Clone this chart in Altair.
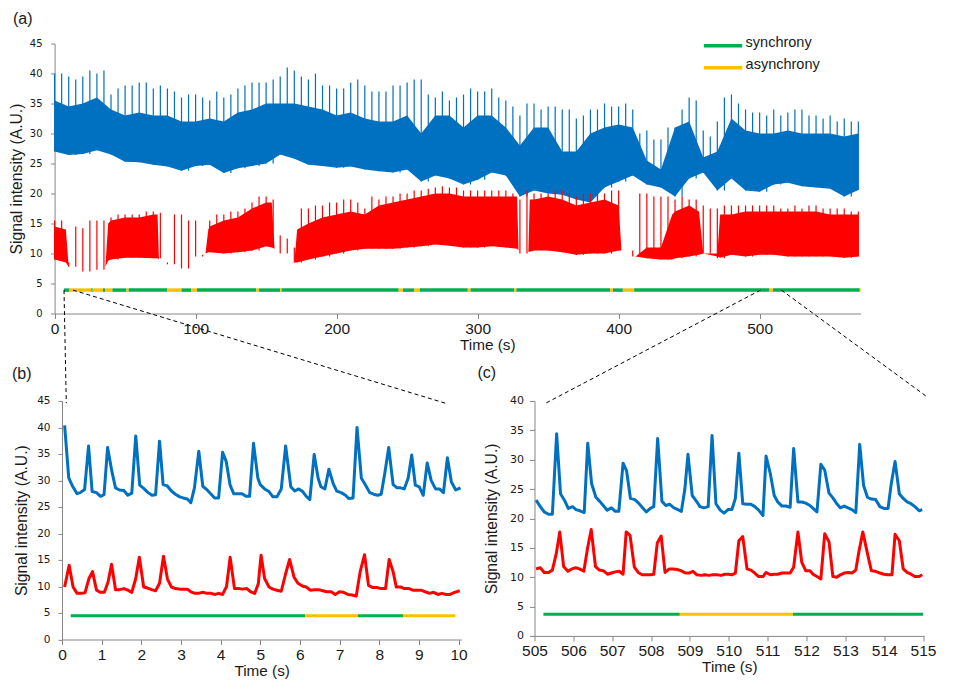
import altair as alt
import pandas as pd

# ---------------- panel (a): overview ----------------
# blue trace, read every 10 s: lower edge, top of the dense band
overview_time = list(range(0, 571, 10))
blue_low = [27.0, 26.4, 26.6, 27.2, 26.5, 25.3, 25.2, 24.8, 24.5, 23.8, 24.6, 24.8, 23.4, 24.2, 24.6,
            25.0, 26.5, 25.8, 24.8, 24.6, 24.3, 24.5, 24.0, 23.7, 23.5, 24.0, 22.0, 23.0, 22.5, 21.5,
            22.3, 23.5, 23.0, 19.5, 20.5, 20.0, 19.8, 19.0, 18.5, 21.0, 22.0, 23.0, 21.5, 21.0, 19.5,
            22.5, 23.5, 20.5, 22.5, 20.5, 20.3, 21.5, 21.8, 21.2, 21.0, 20.8, 19.5, 20.6]
blue_high = [35.5, 34.5, 35.0, 36.0, 34.0, 33.0, 33.5, 33.0, 33.0, 32.0, 32.0, 32.5, 32.0, 33.5, 34.0,
             35.0, 35.0, 35.0, 34.5, 34.0, 33.0, 33.5, 32.5, 32.0, 32.0, 33.0, 30.0, 33.0, 33.0, 31.0,
             33.0, 33.0, 31.0, 28.0, 31.0, 31.0, 27.0, 27.0, 30.0, 31.0, 31.5, 31.0, 25.5, 24.0, 31.0,
             32.0, 26.0, 27.0, 32.5, 30.5, 30.0, 30.0, 30.5, 30.0, 30.0, 30.0, 29.5, 30.0]
# spike tops at the same 10 s grid
blue_peak_grid = [40.0, 39.5, 39.5, 40.0, 36.5, 38.0, 38.5, 37.5, 37.5, 36.0, 36.5, 35.5, 36.0, 37.5,
                  38.5, 38.5, 39.5, 40.5, 39.0, 38.0, 37.5, 38.5, 38.0, 37.0, 38.0, 38.5, 39.0, 36.0,
                  35.5, 36.5, 37.0, 37.5, 35.5, 33.0, 35.0, 34.5, 34.0, 32.5, 34.0, 35.0, 34.5, 34.0,
                  30.5, 29.0, 31.0, 36.0, 30.5, 32.0, 36.5, 34.0, 33.5, 34.0, 33.5, 34.0, 33.0, 33.0,
                  32.5, 32.0]
# spike tops half-way between grid points (5, 15, ... 565 s)
spike_time = list(range(5, 566, 10))
blue_peak = [40.0, 39.0, 40.5, 40.5, 37.5, 38.0, 38.5, 38.0, 37.0, 36.5, 36.0, 37.0, 36.5, 38.0, 38.5,
             39.0, 41.0, 39.5, 40.0, 38.0, 37.5, 39.0, 37.0, 37.0, 38.0, 39.0, 36.5, 37.0, 36.0, 37.5,
             37.0, 36.0, 34.5, 35.0, 34.0, 34.5, 34.0, 33.0, 34.0, 34.5, 35.0, 30.0, 29.0, 31.0, 34.0,
             35.5, 29.5, 36.0, 35.0, 33.5, 33.0, 33.0, 34.0, 33.0, 32.5, 32.0, 32.0]

# red trace: baseline on the 10 s grid, spike tops on the grid and half-way
red_low = [9.0, 7.8, 7.0, 7.3, 9.0, 9.3, 9.3, 9.2, 8.2, 7.5, 9.5, 10.2, 10.0, 10.2, 10.5,
           11.2, 10.0, 8.5, 9.0, 9.5, 10.0, 10.5, 10.8, 10.8, 10.8, 11.0, 11.2, 11.5, 11.3, 11.0,
           11.0, 11.2, 11.0, 10.0, 10.5, 10.5, 10.2, 9.8, 10.0, 10.0, 10.5, 9.5, 9.2, 9.0, 9.2,
           9.5, 10.0, 9.2, 9.8, 9.5, 9.8, 9.8, 9.5, 9.5, 9.5, 9.5, 9.3, 9.5]
red_peak_grid = [15.5, 8.5, 14.2, 15.5, 16.0, 16.5, 16.5, 17.0, 8.5, 16.5, 15.5, 15.5, 16.5, 17.0,
                 18.5, 19.5, 13.0, 11.0, 17.5, 18.0, 18.5, 19.0, 17.5, 19.0, 19.5, 20.0, 20.5, 21.0,
                 21.0, 20.5, 20.5, 20.5, 20.5, 19.0, 20.0, 20.0, 20.5, 19.5, 20.0, 20.0, 20.5, 10.5,
                 20.0, 19.5, 19.0, 19.0, 18.0, 17.5, 18.0, 18.0, 18.0, 18.0, 17.5, 17.5, 18.0, 17.5,
                 17.5, 17.0]
red_peak = [15.5, 14.5, 15.5, 15.5, 16.5, 16.5, 17.0, 16.8, 16.5, 15.5, 9.8, 16.5, 17.0, 17.5, 19.5,
            19.0, 12.5, 17.5, 18.0, 18.5, 19.0, 18.5, 19.5, 19.5, 20.0, 20.5, 20.8, 21.2, 21.0, 20.5,
            20.5, 20.5, 20.0, 20.5, 20.0, 20.5, 20.0, 20.0, 20.0, 20.5, 10.5, 20.0, 19.5, 19.5, 19.5,
            19.0, 17.5, 18.0, 18.0, 18.0, 18.0, 17.5, 18.0, 18.0, 17.5, 17.5, 17.0]
# red dense band, with extra points where bursting starts or stops
red_band_time = [0, 8, 10, 20, 30, 36, 38, 40, 50, 60, 70, 73, 74, 80, 90, 100, 107, 109, 110, 120,
                 130, 140, 150, 154, 156, 160, 170, 172, 180, 190, 200, 210, 220, 230, 240, 250, 260,
                 270, 280, 290, 300, 310, 320, 328, 329, 336, 337, 340, 350, 360, 370, 380, 390, 400,
                 402, 410, 412, 420, 430, 438, 440, 450, 457, 460, 470, 472, 480, 490, 500, 510, 520,
                 530, 540, 550, 560, 570]
red_band_low = [9.0, 8.5, 7.8, 7.0, 7.3, 7.8, 8.8, 9.0, 9.3, 9.3, 9.2, 9.2, 9.0, 8.2, 7.5, 9.5, 10.0,
                10.2, 10.2, 10.0, 10.2, 10.5, 11.2, 11.0, 10.8, 10.0, 8.5, 8.5, 9.0, 9.5, 10.0, 10.5,
                10.8, 10.8, 10.8, 11.0, 11.2, 11.5, 11.3, 11.0, 11.0, 11.2, 11.0, 10.8, 10.5, 10.3,
                10.3, 10.5, 10.5, 10.2, 9.8, 10.0, 10.0, 10.5, 10.5, 9.8, 9.5, 9.2, 9.0, 9.0, 9.2, 9.5,
                9.8, 10.0, 9.5, 9.3, 9.8, 9.5, 9.8, 9.8, 9.5, 9.5, 9.5, 9.5, 9.3, 9.5]
red_band_high = [14.5, 14.0, 7.8, 7.0, 7.3, 7.8, 15.0, 15.5, 16.0, 16.0, 16.5, 16.5, 9.0, 8.2, 7.5,
                 9.5, 10.0, 14.0, 14.5, 15.5, 16.0, 17.5, 18.5, 18.5, 10.8, 10.0, 8.5, 14.0, 15.0,
                 16.0, 16.5, 17.0, 16.5, 18.0, 18.5, 19.0, 19.5, 20.0, 20.0, 19.5, 19.5, 19.5, 19.5,
                 19.5, 10.5, 10.3, 19.0, 19.0, 19.5, 19.0, 18.0, 18.5, 19.0, 18.0, 10.5, 9.8, 9.5,
                 11.0, 11.0, 16.5, 17.0, 18.0, 17.0, 10.0, 10.0, 16.5, 16.5, 17.0, 17.0, 17.0, 17.0,
                 17.0, 17.0, 16.5, 16.5, 16.5]

# synchrony bar of panel (a)
a_seg_start = [6.6, 10.6, 26.0, 27.0, 34.3, 36.0, 41.0, 51.0, 52.5, 80.0, 90.0, 97.0, 101.0, 143.0, 145.0,
               160.0, 161.0, 244.0, 247.0, 255.0, 259.0, 293.0, 295.0, 326.0, 327.5, 394.0, 396.0,
               403.0, 411.0, 507.0, 509.5, 571.0]
a_seg_end = [10.6, 26.0, 27.0, 34.3, 36.0, 41.0, 51.0, 52.5, 80.0, 90.0, 97.0, 101.0, 143.0, 145.0, 160.0,
             161.0, 244.0, 247.0, 255.0, 259.0, 293.0, 295.0, 326.0, 327.5, 394.0, 396.0, 403.0,
             411.0, 507.0, 509.5, 571.0, 571.6]
a_seg_state = ["synchrony", "asynchrony"] * 16
a_bar_level = 3.9

# dashed zoom guides, in panel (a) units
zoom_t = [6.67, 13.0, 500.6, 515.4]
zoom_v = [3.9, 3.9, 3.9, 3.9]
zoom_t2 = [8.3, 277.8, 348.7, 618.2]
zoom_v2 = [-14.95, -15.0, -14.9, -13.8]

# ---------------- panel (b): 0-10 s ----------------
b_blue_t = [0.066, 0.17, 0.26, 0.38, 0.46, 0.57, 0.67, 0.76, 0.87, 0.97, 1.06, 1.15, 1.26, 1.35, 1.45,
            1.56, 1.66, 1.76, 1.86, 1.96, 2.06, 2.17, 2.27, 2.36, 2.46, 2.55, 2.65, 2.76, 2.86, 2.97,
            3.06, 3.16, 3.25, 3.34, 3.45, 3.55, 3.66, 3.75, 3.85, 3.95, 4.05, 4.14, 4.24, 4.33, 4.44,
            4.54, 4.64, 4.73, 4.83, 4.94, 5.00, 5.11, 5.22, 5.32, 5.42, 5.53, 5.64, 5.77, 5.87, 5.97,
            6.07, 6.16, 6.25, 6.36, 6.46, 6.53, 6.63, 6.73, 6.84, 6.93, 7.04, 7.15, 7.23, 7.34, 7.44,
            7.55, 7.65, 7.76, 7.86, 7.96, 8.05, 8.14, 8.24, 8.35, 8.45, 8.54, 8.63, 8.73, 8.82, 8.91,
            9.01, 9.11, 9.21, 9.31, 9.42, 9.52, 9.62, 9.72, 9.82, 9.93, 10.05]
b_blue_v = [40.4, 30.5, 29.0, 27.5, 27.7, 28.3, 36.5, 27.9, 27.7, 27.0, 27.3, 36.2, 31.6, 28.6, 28.2,
            28.1, 27.2, 27.6, 38.4, 29.1, 28.5, 27.7, 27.2, 27.3, 37.4, 29.2, 29.0, 28.0, 27.4, 26.9,
            26.7, 26.5, 25.8, 28.6, 35.5, 28.9, 28.2, 27.5, 26.7, 26.7, 35.3, 33.6, 29.1, 27.5, 27.5,
            27.5, 27.0, 27.0, 37.0, 30.4, 29.2, 28.4, 27.9, 26.9, 26.9, 28.4, 36.5, 28.8, 28.0, 28.4,
            27.9, 27.0, 26.4, 34.9, 30.4, 28.8, 28.4, 32.1, 29.4, 28.0, 27.7, 27.2, 26.6, 26.7, 40.0,
            30.4, 29.2, 27.7, 27.4, 27.2, 27.4, 31.3, 36.2, 29.2, 28.6, 28.6, 28.4, 30.4, 34.8, 29.1,
            28.8, 27.2, 33.3, 30.0, 28.4, 28.4, 27.7, 34.3, 29.7, 28.2, 28.6]
b_red_t = [0.066, 0.18, 0.28, 0.38, 0.48, 0.58, 0.68, 0.77, 0.87, 0.97, 1.07, 1.16, 1.25, 1.35, 1.45,
           1.56, 1.66, 1.76, 1.86, 1.95, 2.06, 2.16, 2.26, 2.36, 2.46, 2.56, 2.66, 2.76, 2.86, 2.97,
           3.06, 3.16, 3.25, 3.35, 3.45, 3.55, 3.66, 3.76, 3.86, 3.95, 4.05, 4.15, 4.24, 4.35, 4.45,
           4.55, 4.66, 4.76, 4.86, 4.95, 5.02, 5.11, 5.22, 5.32, 5.42, 5.53, 5.64, 5.74, 5.85, 5.95,
           6.06, 6.16, 6.26, 6.37, 6.47, 6.58, 6.68, 6.79, 6.89, 7.00, 7.10, 7.21, 7.31, 7.42, 7.52,
           7.63, 7.73, 7.84, 7.94, 8.05, 8.16, 8.25, 8.35, 8.43, 8.54, 8.64, 8.75, 8.85, 8.96, 9.06,
           9.16, 9.27, 9.37, 9.48, 9.58, 9.69, 9.79, 9.90, 10.03]
b_red_v = [9.9, 14.0, 9.9, 8.7, 8.7, 8.8, 11.5, 12.8, 9.3, 8.9, 8.9, 10.8, 14.2, 9.4, 9.4,
           9.6, 9.3, 8.9, 11.5, 15.5, 9.9, 9.7, 9.4, 9.2, 10.6, 15.7, 11.4, 9.9, 9.6, 9.5,
           9.5, 9.5, 9.0, 8.7, 8.7, 8.9, 8.7, 8.7, 8.5, 8.7, 8.5, 10.0, 15.5, 9.6, 9.6,
           9.5, 9.6, 9.0, 8.7, 10.5, 15.9, 11.5, 9.9, 9.5, 9.3, 9.1, 12.4, 15.1, 11.8, 10.6,
           10.1, 9.9, 9.3, 9.4, 9.4, 9.2, 9.0, 9.0, 8.5, 9.0, 8.9, 8.5, 8.4, 8.2, 12.8,
           16.0, 10.2, 9.8, 9.8, 9.6, 9.6, 15.1, 12.8, 9.9, 9.9, 9.6, 9.6, 9.3, 9.3, 9.3,
           9.0, 8.7, 8.9, 8.5, 8.7, 8.5, 8.5, 8.9, 9.2]
b_seg_start = [0.22, 6.13, 7.46, 8.6]
b_seg_end = [6.13, 7.46, 8.6, 9.92]
b_seg_state = ["synchrony", "asynchrony", "synchrony", "asynchrony"]
b_bar_level = 4.5

# ---------------- panel (c): 505-515 s ----------------
c_blue_t = [505.04, 505.15, 505.25, 505.36, 505.46, 505.57, 505.67, 505.77, 505.87, 505.98, 506.07,
            506.17, 506.28, 506.37, 506.47, 506.58, 506.68, 506.77, 506.87, 506.98, 507.08, 507.17,
            507.28, 507.37, 507.47, 507.58, 507.68, 507.78, 507.88, 507.98, 508.07, 508.17, 508.28,
            508.38, 508.48, 508.59, 508.69, 508.78, 508.87, 508.95, 509.06, 509.16, 509.26, 509.36,
            509.47, 509.57, 509.67, 509.78, 509.88, 509.98, 510.08, 510.17, 510.26, 510.36, 510.47,
            510.57, 510.67, 510.77, 510.88, 510.96, 511.07, 511.17, 511.26, 511.37, 511.47, 511.58,
            511.67, 511.78, 511.88, 511.98, 512.09, 512.17, 512.27, 512.37, 512.47, 512.58, 512.68,
            512.78, 512.87, 512.97, 513.07, 513.17, 513.27, 513.37, 513.47, 513.57, 513.67, 513.78,
            513.89, 513.99, 514.10, 514.18, 514.28, 514.39, 514.49, 514.59, 514.69, 514.79, 514.90,
            514.98]
c_blue_v = [23.1, 22.0, 21.1, 20.7, 20.7, 34.4, 24.2, 23.1, 21.7, 22.0, 21.5,
            21.3, 21.0, 32.8, 25.9, 23.6, 22.9, 22.2, 21.4, 21.8, 21.2, 21.2,
            29.4, 28.1, 23.4, 23.2, 22.6, 21.8, 21.1, 21.7, 22.0, 33.6, 22.9,
            22.2, 22.4, 21.8, 21.5, 21.2, 25.0, 30.9, 23.9, 23.0, 22.0, 21.8,
            22.0, 34.1, 22.5, 21.4, 20.9, 21.5, 21.5, 23.4, 31.1, 22.5, 22.4,
            22.4, 22.0, 21.4, 20.5, 30.6, 27.6, 23.9, 22.8, 22.1, 22.1, 21.9,
            31.9, 22.8, 22.8, 22.6, 22.2, 21.7, 21.1, 29.2, 28.2, 24.3, 23.5,
            22.5, 21.8, 22.1, 21.8, 21.5, 21.0, 32.6, 25.6, 23.6, 23.3, 23.2,
            22.0, 21.7, 21.7, 25.8, 29.7, 24.2, 23.4, 22.8, 22.5, 22.0, 21.3,
            21.5]
c_red_t = [505.04, 505.15, 505.25, 505.36, 505.46, 505.56, 505.65, 505.75, 505.86, 505.96, 506.06,
           506.16, 506.27, 506.37, 506.46, 506.57, 506.67, 506.77, 506.88, 506.98, 507.08, 507.18,
           507.28, 507.36, 507.46, 507.57, 507.67, 507.77, 507.88, 507.98, 508.07, 508.16, 508.26,
           508.36, 508.47, 508.57, 508.67, 508.77, 508.88, 508.98, 509.08, 509.18, 509.29, 509.39,
           509.49, 509.59, 509.70, 509.80, 509.90, 509.99, 510.08, 510.17, 510.26, 510.36, 510.47,
           510.57, 510.67, 510.77, 510.88, 510.96, 511.07, 511.17, 511.26, 511.37, 511.47, 511.58,
           511.67, 511.78, 511.88, 511.98, 512.09, 512.17, 512.27, 512.37, 512.47, 512.58, 512.68,
           512.78, 512.87, 512.97, 513.07, 513.17, 513.27, 513.34, 513.45, 513.57, 513.67, 513.78,
           513.89, 513.99, 514.10, 514.20, 514.28, 514.39, 514.49, 514.59, 514.69, 514.79, 514.90,
           514.98]
c_red_v = [11.4, 11.6, 10.8, 10.8, 11.2, 14.0, 17.7, 11.8, 11.0, 11.4, 11.6,
           11.4, 11.0, 15.1, 18.1, 11.8, 11.2, 11.1, 10.5, 10.7, 10.9, 11.0,
           10.5, 17.7, 17.1, 11.7, 10.8, 10.4, 10.4, 10.4, 10.5, 15.8, 17.0,
           10.8, 11.4, 11.4, 11.3, 11.1, 10.7, 10.7, 11.0, 10.4, 10.3, 10.4,
           10.3, 10.4, 10.4, 10.3, 10.5, 10.5, 10.4, 10.7, 16.2, 16.9, 11.4,
           11.2, 10.7, 10.1, 10.1, 10.8, 10.4, 10.5, 10.5, 10.7, 10.7, 10.7,
           11.7, 17.7, 12.5, 11.1, 11.1, 10.5, 10.1, 9.7, 17.4, 16.0, 10.1,
           10.0, 10.4, 10.7, 10.8, 10.7, 11.2, 14.0, 17.7, 14.0, 11.1, 11.0,
           10.7, 10.5, 10.4, 10.4, 17.3, 16.2, 11.4, 10.8, 10.5, 10.1, 10.1,
           10.4]
c_seg_start = [505.23, 508.74, 511.65]
c_seg_end = [508.74, 511.65, 515.0]
c_seg_state = ["synchrony", "asynchrony", "synchrony"]
c_bar_level = 3.7

# ---------------- styling ----------------
BLUE, RED, GREEN, YELLOW = "#0070C0", "#FF0000", "#00B050", "#FFC000"
AX, TXT = "#868686", "#1a1a1a"
SANS, TICKFONT = "Liberation Sans", "DejaVu Sans"
state_scale = alt.Scale(domain=["synchrony", "asynchrony"], range=[GREEN, YELLOW])
A_SHIFT = 7.4  # panel (a) plot starts this many px left of panel (b)


def x_axis(values, title_x=None):
    kw = dict(values=values, title="Time (s)", grid=False, domainColor=AX, tickColor=AX,
              tickSize=5, labelPadding=3, labelFont=SANS, labelFontSize=15.5, labelColor=TXT,
              labelFlush=False, labelOverlap=False, titleFont=SANS, titleFontSize=15.3,
              titleFontWeight="normal", titleColor=TXT, titlePadding=0)
    if title_x is not None:
        kw["titleX"] = title_x
    return alt.Axis(**kw)


def y_axis(values, extent, label_pad, tick, title_pad, label_size, offset=0):
    return alt.Axis(values=values, title="Signal intensity (A.U.)", grid=False, domainColor=AX,
                    tickColor=AX, tickSize=tick, labelPadding=label_pad, labelFont=TICKFONT,
                    labelFontSize=label_size, labelColor=TXT, titleFont=SANS, titleFontSize=15.7,
                    titleFontWeight="normal", titleColor=TXT, titlePadding=title_pad,
                    minExtent=extent, maxExtent=extent, offset=offset)


def panel_title(text, dx, dy):
    return alt.Title(text, anchor="start", frame="group", dx=dx, dy=dy, fontSize=16, font=SANS,
                     fontWeight="normal", color=TXT)


# ---------------- panel (a) ----------------
xa = alt.X("t:Q", scale=alt.Scale(domain=[0, 571.6], range=[-A_SHIFT, 806 - A_SHIFT], nice=False,
                                  zero=False),
           axis=x_axis([0, 100, 200, 300, 400, 500], title_x=425.3))
ya = alt.Y("v:Q", scale=alt.Scale(domain=[0, 45], nice=False),
           axis=y_axis(list(range(0, 46, 5)), 25, 8.6, 4, 5, 10, offset=A_SHIFT))

blue_band = pd.DataFrame({"t": overview_time, "v": blue_low, "v2": blue_high})
red_band = pd.DataFrame({"t": red_band_time, "v": red_band_low, "v2": red_band_high})
blue_spikes = pd.concat([
    pd.DataFrame({"t": overview_time, "v": blue_low, "v2": blue_peak_grid}),
    pd.DataFrame({"t": spike_time, "v": blue_low[:len(spike_time)], "v2": blue_peak}),
])
red_spikes = pd.concat([
    pd.DataFrame({"t": overview_time, "v": red_low, "v2": red_peak_grid}),
    pd.DataFrame({"t": spike_time, "v": red_low[:len(spike_time)], "v2": red_peak}),
])
a_segs = pd.DataFrame({"t": a_seg_start, "t2": a_seg_end, "v": a_bar_level, "state": a_seg_state})
zooms = pd.DataFrame({"t": zoom_t, "v": zoom_v, "t2": zoom_t2, "v2": zoom_v2})

legend = alt.Legend(title=None, orient="none", legendX=669.1, legendY=-8.0,
                    symbolType="M-6.9,0.6L0.78,0.6", symbolSize=100, symbolStrokeWidth=3.5,
                    labelFont=SANS, labelFontSize=14.5, labelColor=TXT, labelOffset=0,
                    rowPadding=3.1, padding=0)

panel_a = alt.layer(
    alt.Chart(blue_band).mark_area(color=BLUE).encode(x=xa, y=ya, y2="v2:Q"),
    alt.Chart(blue_spikes).mark_rule(color=BLUE, strokeWidth=1.2).encode(x=xa, y=ya, y2="v2:Q"),
    alt.Chart(red_band).mark_area(color=RED).encode(x=xa, y=ya, y2="v2:Q"),
    alt.Chart(red_spikes).mark_rule(color=RED, strokeWidth=1.2).encode(x=xa, y=ya, y2="v2:Q"),
    alt.Chart(a_segs).mark_rule(strokeWidth=3.5).encode(
        x=xa, x2="t2:Q", y=ya, color=alt.Color("state:N", scale=state_scale, legend=legend)),
    alt.Chart(zooms).mark_rule(color="#000000", strokeDash=[4, 3], strokeWidth=1).encode(
        x=xa, y=ya, x2="t2:Q", y2="v2:Q"),
).properties(width=806 - A_SHIFT, height=270, title=panel_title("(a)", -49, -5))

# ---------------- panel (b) ----------------
xb = alt.X("t:Q", scale=alt.Scale(domain=[0, 10.07], nice=False, zero=False),
           axis=x_axis(list(range(0, 11))))
yb = alt.Y("v:Q", scale=alt.Scale(domain=[0, 45], nice=False),
           axis=y_axis(list(range(0, 46, 5)), 24.7, 8, 4, 8, 10.5))
b_segs = pd.DataFrame({"t": b_seg_start, "t2": b_seg_end, "v": b_bar_level, "state": b_seg_state})
panel_b = alt.layer(
    alt.Chart(pd.DataFrame({"t": b_blue_t, "v": b_blue_v})).mark_line(
        color=BLUE, strokeWidth=3, strokeJoin="round").encode(x=xb, y=yb),
    alt.Chart(pd.DataFrame({"t": b_red_t, "v": b_red_v})).mark_line(
        color=RED, strokeWidth=3, strokeJoin="round").encode(x=xb, y=yb),
    alt.Chart(b_segs).mark_rule(strokeWidth=3).encode(
        x=xb, x2="t2:Q", y=yb, color=alt.Color("state:N", scale=state_scale, legend=None)),
).properties(width=399.3, height=238.6, title=panel_title("(b)", -50, -10))

# ---------------- panel (c) ----------------
xc = alt.X("t:Q", scale=alt.Scale(domain=[505, 515.03], nice=False, zero=False),
           axis=x_axis(list(range(505, 516))))
yc = alt.Y("v:Q", scale=alt.Scale(domain=[0, 40], nice=False),
           axis=y_axis(list(range(0, 41, 5)), 25, 6, 5, 10, 11))
c_segs = pd.DataFrame({"t": c_seg_start, "t2": c_seg_end, "v": c_bar_level, "state": c_seg_state})
panel_c = alt.layer(
    alt.Chart(pd.DataFrame({"t": c_blue_t, "v": c_blue_v})).mark_line(
        color=BLUE, strokeWidth=3, strokeJoin="round").encode(x=xc, y=yc),
    alt.Chart(pd.DataFrame({"t": c_red_t, "v": c_red_v})).mark_line(
        color=RED, strokeWidth=3, strokeJoin="round").encode(x=xc, y=yc),
    alt.Chart(c_segs).mark_rule(strokeWidth=3).encode(
        x=xc, x2="t2:Q", y=yc, color=alt.Color("state:N", scale=state_scale, legend=None)),
).properties(width=389.7, height=235, title=panel_title("(c)", -57, -10))

res = dict(x="independent", y="independent", color="independent")
bottom = alt.hconcat(panel_b, panel_c, spacing=72.5, bounds="flush").resolve_scale(**res)
chart = alt.vconcat(panel_a, bottom, spacing=87.4, bounds="flush").resolve_scale(**res).properties(
    padding={"left": 0, "top": 1.5, "right": 5, "bottom": 5}
).configure_view(stroke="transparent")

chart.save("out.html", embed_options={"renderer": "svg", "actions": False})
